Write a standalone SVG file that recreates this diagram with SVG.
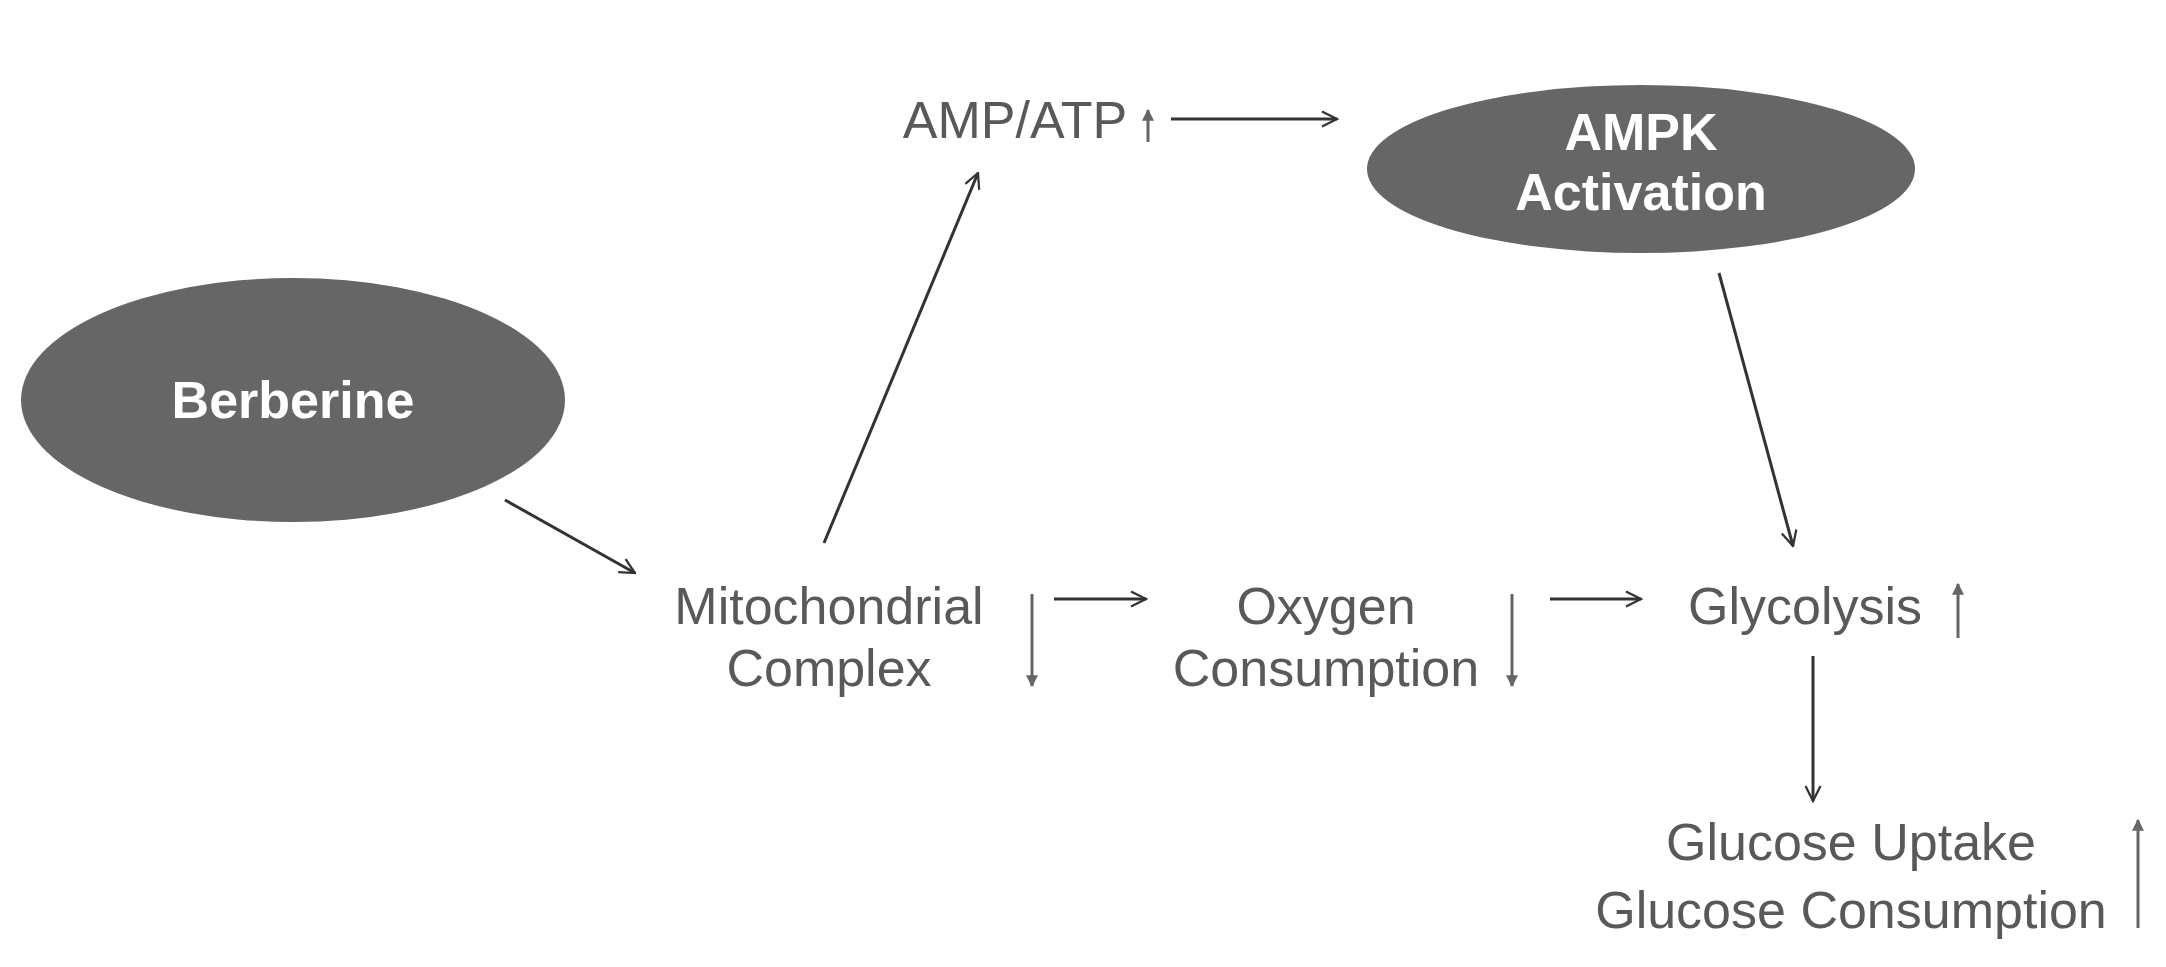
<svg xmlns="http://www.w3.org/2000/svg" width="2166" height="967" viewBox="0 0 2166 967">
<style>
.t{font-family:"Liberation Sans",Arial,sans-serif;font-size:52px;fill:#595959;text-anchor:middle}
.w{font-family:"Liberation Sans",Arial,sans-serif;font-size:52px;fill:#ffffff;text-anchor:middle;font-weight:bold}
.c{stroke:#333;stroke-width:3;fill:none;marker-end:url(#a)}
.s{stroke:#666;stroke-width:3;fill:none;marker-end:url(#b)}
</style>
<defs>
<marker id="a" viewBox="0 0 12 12" refX="11" refY="6" markerWidth="6" markerHeight="6" orient="auto" markerUnits="strokeWidth"><path d="M1,1 L11,6 L1,11" fill="none" stroke="#333" stroke-width="1.5"/></marker>
<marker id="b" viewBox="0 0 10 10" refX="9" refY="5" markerWidth="4" markerHeight="4" orient="auto" markerUnits="strokeWidth"><path d="M0,0 L10,5 L0,10 z" fill="#666"/></marker>
</defs>
<rect width="2166" height="967" fill="#fff"/>
<g id="berberine"><ellipse cx="293" cy="400" rx="272" ry="122" fill="#666"/><text class="w" x="293" y="418">Berberine</text></g>
<g id="ampk"><ellipse cx="1641" cy="169" rx="274" ry="84" fill="#666"/><text class="w" x="1641" y="150">AMPK</text><text class="w" x="1641" y="210">Activation</text></g>
<g id="ampatp"><text class="t" x="1015" y="138">AMP/ATP</text></g>
<g id="mito"><text class="t" x="829" y="624">Mitochondrial</text><text class="t" x="829" y="686">Complex</text></g>
<g id="oxygen"><text class="t" x="1326" y="624">Oxygen</text><text class="t" x="1326" y="686">Consumption</text></g>
<g id="glycolysis"><text class="t" x="1805" y="624">Glycolysis</text></g>
<g id="glucose"><text class="t" x="1851" y="860">Glucose Uptake</text><text class="t" x="1851" y="928">Glucose Consumption</text></g>
<g id="connectors">
<line class="c" x1="505" y1="500" x2="635" y2="573"/>
<line class="c" x1="824" y1="543" x2="978" y2="173"/>
<line class="c" x1="1171" y1="119" x2="1337" y2="119"/>
<line class="c" x1="1719" y1="273" x2="1793" y2="546"/>
<line class="c" x1="1054" y1="599" x2="1146" y2="599"/>
<line class="c" x1="1550" y1="599" x2="1641" y2="599"/>
<line class="c" x1="1813" y1="656" x2="1813" y2="801"/>
<line class="s" x1="1148" y1="142" x2="1148" y2="110"/>
<line class="s" x1="1032" y1="594" x2="1032" y2="686"/>
<line class="s" x1="1512" y1="594" x2="1512" y2="686"/>
<line class="s" x1="1958" y1="638" x2="1958" y2="584"/>
<line class="s" x1="2138" y1="928" x2="2138" y2="820"/>
</g>
</svg>
